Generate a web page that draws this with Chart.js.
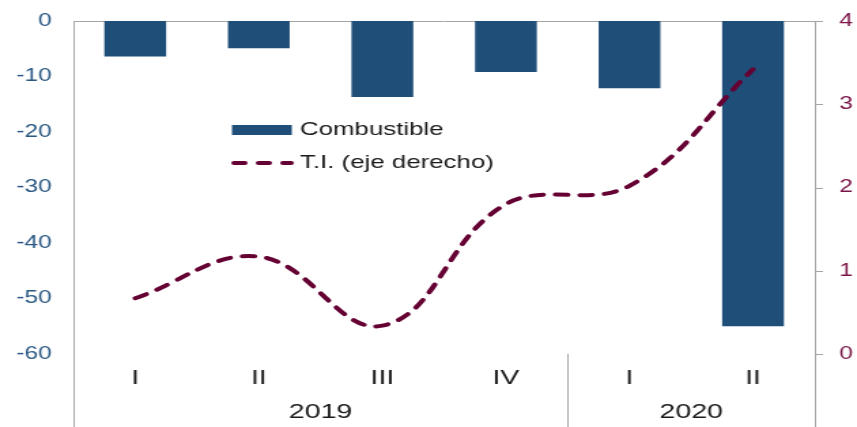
<!DOCTYPE html>
<html>
<head>
<meta charset="utf-8">
<script src="https://cdn.jsdelivr.net/npm/chart.js@4"></script>
<style>
  html, body { margin: 0; padding: 0; background: #fff; overflow: hidden; }
  /* the original picture is stretched sideways, so the chart is drawn narrow and widened */
  #wrap { width: 630px; height: 427px; transform: scaleX(1.3603); transform-origin: 0 0; }
</style>
</head>
<body>
<div id="wrap"><canvas id="grafico"></canvas></div>
<script>
// Datos
const trimestres = ["I", "II", "III", "IV", "I", "II"];
const anios = ["2019", "2020"];
const trimestresPorAnio = [4, 2];
const combustible = [-6.4, -4.9, -13.7, -9.2, -12.1, -55.0];
const tasaInteres = [0.67, 1.17, 0.34, 1.8, 2.02, 3.42];
const ticksIzq = [-60, -50, -40, -30, -20, -10, 0];
const ticksDer = [0, 1, 2, 3, 4];

const AZUL = "#1F4E79";
const GRANATE = "#650033";
const GRIS = "#A6A6A6";

// Ejes, separador de años y leyenda
const extras = {
    id: "extras",
    beforeDatasetsDraw(chart) {
        const { ctx, chartArea } = chart;
        const x = chart.scales.x;
        const y1 = chart.scales.y1;
        const H = chart.height;
        ctx.save();
        ctx.strokeStyle = GRIS;
        ctx.lineWidth = 1;
        ctx.beginPath();
        // línea del cero
        ctx.moveTo(chartArea.left, chartArea.top + 0.5);
        ctx.lineTo(chartArea.right, chartArea.top + 0.5);
        // eje izquierdo y derecho
        ctx.moveTo(chartArea.left + 0.5, chartArea.top);
        ctx.lineTo(chartArea.left + 0.5, H);
        ctx.moveTo(chartArea.right + 0.5, chartArea.top);
        ctx.lineTo(chartArea.right + 0.5, H);
        // marcas del eje derecho
        ticksDer.forEach(v => {
            const py = Math.round(y1.getPixelForValue(v)) + 0.5;
            ctx.moveTo(chartArea.right, py);
            ctx.lineTo(chartArea.right + 6, py);
        });
        // separador entre años
        const anchoCat = x.width / trimestres.length;
        let idx = 0;
        trimestresPorAnio.slice(0, -1).forEach(n => {
            idx += n;
            const px = Math.round(x.getPixelForValue(idx) - anchoCat / 2) + 0.5;
            ctx.moveTo(px, chartArea.bottom);
            ctx.lineTo(px, H);
        });
        ctx.stroke();

        // etiquetas de año
        ctx.fillStyle = "#1a1a1a";
        ctx.font = "21px 'Liberation Sans', Arial, sans-serif";
        ctx.textAlign = "center";
        ctx.textBaseline = "middle";
        idx = 0;
        anios.forEach((a, i) => {
            const ini = x.getPixelForValue(idx) - anchoCat / 2;
            idx += trimestresPorAnio[i];
            const fin = x.getPixelForValue(idx - 1) + anchoCat / 2;
            ctx.fillText(a, (ini + fin) / 2, 412);
        });
        ctx.restore();
    },
    afterDraw(chart) {
        const { ctx } = chart;
        const ds = chart.data.datasets;
        ctx.save();
        ctx.font = "19px 'Liberation Sans', Arial, sans-serif";
        ctx.textBaseline = "middle";
        ctx.textAlign = "left";
        // barra
        ctx.fillStyle = ds[0].backgroundColor;
        ctx.fillRect(170.5, 125, 44, 10);
        ctx.fillStyle = "#1a1a1a";
        ctx.fillText(ds[0].label, 220.5, 130);
        // línea
        ctx.strokeStyle = ds[1].borderColor;
        ctx.lineWidth = 4;
        ctx.lineCap = "round";
        ctx.setLineDash([8, 10]);
        ctx.beginPath();
        ctx.moveTo(172, 163);
        ctx.lineTo(214, 163);
        ctx.stroke();
        ctx.setLineDash([]);
        ctx.fillText(ds[1].label, 220.5, 163);
        ctx.restore();
    }
};

new Chart(document.getElementById("grafico"), {
    data: {
        labels: trimestres,
        datasets: [
            {
                type: "bar",
                label: "Combustible",
                data: combustible,
                backgroundColor: AZUL,
                yAxisID: "y",
                categoryPercentage: 1,
                barPercentage: 0.5,
                order: 2
            },
            {
                type: "line",
                label: "T.I. (eje derecho)",
                data: tasaInteres,
                borderColor: GRANATE,
                borderWidth: 4,
                borderDash: [9, 9],
                borderCapStyle: "round",
                tension: 0.4,
                pointRadius: 0,
                fill: false,
                yAxisID: "y1",
                order: 1
            }
        ]
    },
    options: {
        responsive: true,
        maintainAspectRatio: false,
        animation: false,
        layout: { padding: { top: 21, left: 0, right: 0, bottom: 0 } },
        plugins: {
            legend: { display: false },
            tooltip: { enabled: false }
        },
        scales: {
            x: {
                position: "bottom",
                grid: { display: false, drawTicks: false },
                border: { display: false },
                ticks: {
                    color: "#1a1a1a",
                    padding: 12,
                    font: { family: "'Liberation Sans', Arial, sans-serif", size: 21 }
                },
                afterFit(s) { s.height = 73; }
            },
            y: {
                position: "left",
                min: -60,
                max: 0,
                grid: { display: false, drawTicks: false },
                border: { display: false },
                afterBuildTicks(s) { s.ticks = ticksIzq.map(v => ({ value: v })); },
                ticks: {
                    color: "#2A5883",
                    padding: 16,
                    font: { family: "'Liberation Sans', Arial, sans-serif", size: 18 }
                },
                afterFit(s) { s.width = 54; s.paddingTop = 0; s.paddingBottom = 0; }
            },
            y1: {
                position: "right",
                min: 0,
                max: 4,
                grid: { display: false, drawTicks: false },
                border: { display: false },
                afterBuildTicks(s) { s.ticks = ticksDer.map(v => ({ value: v })); },
                ticks: {
                    color: "#7A1446",
                    padding: 18,
                    font: { family: "'Liberation Sans', Arial, sans-serif", size: 18 }
                },
                afterFit(s) { s.width = 31; s.paddingTop = 0; s.paddingBottom = 0; }
            }
        }
    },
    plugins: [extras]
});
</script>
</body>
</html>
